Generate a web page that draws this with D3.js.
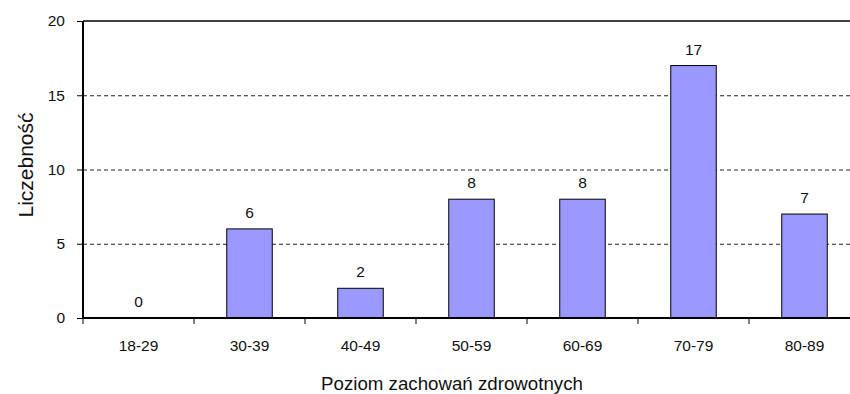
<!DOCTYPE html>
<html lang="pl">
<head>
  <meta charset="UTF-8">
  <title>Poziom zachowań zdrowotnych</title>
  <script src="https://d3js.org/d3.v7.min.js"></script>
  <style>
    body {
      margin: 0;
      background: #fff;
      font-family: "Liberation Sans", Arial, sans-serif;
    }
    svg { display: block; }
  </style>
</head>
<body>
<div id="chart"></div>

<script>
  // data
  const categories = ["18-29", "30-39", "40-49", "50-59", "60-69", "70-79", "80-89"];
  const counts = [0, 6, 2, 8, 8, 17, 7];
  const yTicks = [0, 5, 10, 15, 20];

  const width = 850;
  const height = 394;
  const margin = { top: 21, right: -10, bottom: 76, left: 83 };  // plot runs past the right edge

  const svg = d3.select("#chart")
    .append("svg")
    .attr("width", width)
    .attr("height", height);

  const x = d3.scaleBand()
    .domain(categories)
    .range([margin.left, width - margin.right])
    .paddingInner(0)
    .paddingOuter(0);

  const y = d3.scaleLinear()
    .domain([0, 20])
    .range([height - margin.bottom, margin.top]);

  const barW = x.bandwidth() * 0.41;

  // dashed grid lines
  svg.append("g")
    .selectAll("line")
    .data(yTicks.filter(d => d > 0 && d < 20))
    .join("line")
    .attr("x1", margin.left)
    .attr("x2", width)
    .attr("y1", d => y(d) + 0.5)
    .attr("y2", d => y(d) + 0.5)
    .attr("stroke", "#222")
    .attr("stroke-width", 1)
    .attr("stroke-dasharray", "4,3");

  // top border
  svg.append("line")
    .attr("x1", margin.left)
    .attr("x2", width)
    .attr("y1", y(20))
    .attr("y2", y(20))
    .attr("stroke", "#000")
    .attr("stroke-width", 1.5);

  // bars
  svg.append("g")
    .selectAll("rect")
    .data(counts)
    .join("rect")
    .attr("x", (d, i) => x(categories[i]) + (x.bandwidth() - barW) / 2)
    .attr("y", d => y(d))
    .attr("width", barW)
    .attr("height", d => y(0) - y(d))
    .attr("fill", "#9999ff")
    .attr("stroke", "#000")
    .attr("stroke-width", 1);

  // value labels
  svg.append("g")
    .selectAll("text")
    .data(counts)
    .join("text")
    .attr("x", (d, i) => x(categories[i]) + x.bandwidth() / 2)
    .attr("y", d => y(d) - 11)
    .attr("text-anchor", "middle")
    .attr("font-size", "15.5px")
    .attr("fill", "#111")
    .text(d => d);

  // Y axis
  const yAxis = svg.append("g")
    .attr("transform", `translate(${margin.left},0)`)
    .call(d3.axisLeft(y).tickValues(yTicks).tickSize(6).tickPadding(12));
  yAxis.select(".domain").attr("stroke-width", 2).attr("d", `M0,${y(0)}V${y(20)}`);
  yAxis.selectAll(".tick text")
    .attr("font-size", "15.5px")
    .attr("font-family", "Liberation Sans, Arial, sans-serif")
    .attr("fill", "#111");

  // X axis: ticks sit between the categories
  const xAxis = svg.append("g")
    .attr("transform", `translate(0,${y(0)})`);
  xAxis.append("line")
    .attr("x1", margin.left)
    .attr("x2", width)
    .attr("stroke", "#000")
    .attr("stroke-width", 2);
  xAxis.selectAll(".sep")
    .data(categories)
    .join("line")
    .attr("class", "sep")
    .attr("x1", d => x(d))
    .attr("x2", d => x(d))
    .attr("y1", 0)
    .attr("y2", 6)
    .attr("stroke", "#000");
  xAxis.selectAll(".lbl")
    .data(categories)
    .join("text")
    .attr("class", "lbl")
    .attr("x", d => x(d) + x.bandwidth() / 2)
    .attr("y", 33)
    .attr("text-anchor", "middle")
    .attr("font-size", "15.5px")
    .attr("fill", "#111")
    .text(d => d);

  // axis titles
  svg.append("text")
    .attr("transform", "translate(33,165) rotate(-90)")
    .attr("text-anchor", "middle")
    .attr("font-size", "21px")
    .attr("fill", "#111")
    .text("Liczebność");

  svg.append("text")
    .attr("x", 452)
    .attr("y", 390)
    .attr("text-anchor", "middle")
    .attr("font-size", "18.7px")
    .attr("fill", "#111")
    .text("Poziom zachowań zdrowotnych");
</script>
</body>
</html>
